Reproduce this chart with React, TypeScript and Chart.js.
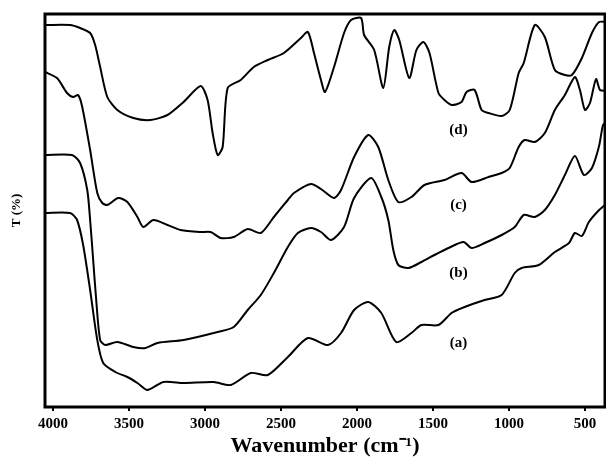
import React, { useEffect, useRef } from "react";
import { Chart, registerables } from "chart.js";
Chart.register(...registerables);

const xTicks = [4000, 3500, 3000, 2500, 2000, 1500, 1000, 500];

const waveD = [4053, 3888, 3822, 3756, 3723, 3690, 3643, 3577, 3472, 3359, 3247, 3141, 3029, 2983, 2950, 2917, 2884, 2851, 2765, 2679, 2587, 2481, 2369, 2323, 2283, 2237, 2210, 2151, 2085, 2039, 1973, 1953, 1887, 1827, 1788, 1755, 1722, 1656, 1609, 1563, 1523, 1464, 1424, 1378, 1312, 1279, 1226, 1180, 1134, 1048, 995, 936, 903, 830, 764, 698, 632, 586, 520, 454, 407, 368];
const transD = [382, 382, 379, 374, 362, 340, 310, 297, 289, 287, 292, 305, 321, 307, 274, 252, 260, 319, 327, 340, 347, 354, 369, 375, 354, 327, 315, 340, 374, 387, 389, 372, 357, 319, 360, 377, 367, 329, 357, 365, 354, 314, 307, 302, 305, 315, 317, 297, 294, 291, 297, 334, 344, 382, 370, 337, 332, 332, 349, 374, 385, 385];

const waveC = [4053, 3974, 3908, 3868, 3835, 3808, 3756, 3709, 3676, 3643, 3571, 3511, 3445, 3406, 3340, 3247, 3161, 3029, 2963, 2897, 2811, 2719, 2633, 2547, 2455, 2415, 2303, 2237, 2151, 2105, 2019, 1926, 1860, 1794, 1728, 1642, 1556, 1424, 1312, 1246, 1134, 1048, 995, 936, 896, 830, 764, 698, 632, 566, 533, 500, 467, 427, 401, 361];
const transC = [335, 329, 314, 310, 312, 300, 257, 214, 204, 202, 209, 205, 190, 180, 187, 182, 177, 175, 175, 169, 170, 178, 174, 190, 207, 214, 223, 218, 209, 217, 250, 272, 260, 227, 205, 210, 222, 227, 234, 225, 230, 234, 239, 260, 267, 265, 274, 297, 312, 330, 317, 297, 304, 328, 317, 316];

const waveB = [4053, 3875, 3822, 3775, 3756, 3736, 3716, 3690, 3657, 3577, 3472, 3392, 3313, 3141, 2917, 2811, 2719, 2633, 2547, 2455, 2389, 2303, 2237, 2171, 2085, 2019, 1907, 1840, 1794, 1761, 1728, 1662, 1576, 1490, 1398, 1299, 1246, 1160, 1048, 962, 903, 830, 764, 698, 632, 566, 507, 454, 407, 381, 361];
const transB = [252, 252, 244, 217, 187, 147, 107, 67, 62, 65, 60, 59, 64, 67, 75, 80, 97, 112, 134, 160, 174, 179, 175, 167, 180, 209, 229, 210, 187, 157, 142, 139, 145, 152, 159, 165, 159, 164, 172, 180, 192, 190, 197, 212, 232, 251, 232, 239, 261, 282, 284];

const waveA = [4053, 3888, 3842, 3802, 3756, 3709, 3670, 3590, 3511, 3445, 3379, 3274, 3141, 2943, 2831, 2699, 2587, 2455, 2323, 2191, 2105, 2019, 1926, 1840, 1742, 1642, 1576, 1464, 1378, 1292, 1160, 1048, 962, 916, 804, 698, 605, 566, 520, 474, 407, 361];
const transA = [194, 194, 187, 162, 117, 67, 44, 35, 30, 24, 17, 25, 24, 25, 22, 34, 32, 50, 69, 62, 74, 97, 105, 94, 65, 74, 82, 82, 94, 100, 107, 112, 134, 139, 142, 155, 164, 174, 171, 185, 197, 203];

const seriesNames = ["(a)", "(b)", "(c)", "(d)"];
const nameWave = [1332, 1332, 1332, 1332];
const nameT = [64, 134, 202, 277];

const SERIF = "'Liberation Serif', 'Times New Roman', serif";

export default function App() {
  const ref = useRef<HTMLCanvasElement | null>(null);
  useEffect(() => {
    if (!ref.current) return;
    const mk = (w: number[], t: number[]) => w.map((x, i) => ({ x, y: t[i] }));
    const series = [mk(waveA, transA), mk(waveB, transB), mk(waveC, transC), mk(waveD, transD)];
    const boxPlugin = {
      id: "boxAndNames",
      afterDatasetsDraw(chart: any) {
        const { ctx, chartArea, scales } = chart;
        ctx.save();
        ctx.strokeStyle = "#000";
        ctx.lineWidth = 3;
        ctx.strokeRect(chartArea.left, chartArea.top, chartArea.right - chartArea.left, chartArea.bottom - chartArea.top);
        ctx.fillStyle = "#000";
        ctx.font = "bold 15px " + SERIF;
        ctx.textAlign = "center";
        ctx.textBaseline = "middle";
        seriesNames.forEach((n, i) => {
          ctx.fillText(n, scales.x.getPixelForValue(nameWave[i]), scales.y.getPixelForValue(nameT[i]));
        });
        ctx.restore();
      },
    };
    const chart = new Chart(ref.current, {
      type: "line",
      data: {
        datasets: series.map((d, i) => ({
          label: seriesNames[i],
          data: d,
          borderColor: "#000",
          borderWidth: 2,
          pointRadius: 0,
          tension: 0.25,
          fill: false,
        })),
      },
      options: {
        animation: false,
        responsive: false,
        maintainAspectRatio: false,
        layout: { padding: { left: 0, top: 14, right: 1, bottom: 0 } },
        plugins: { legend: { display: false }, tooltip: { enabled: false } },
        scales: {
          x: {
            type: "linear",
            reverse: true,
            min: 368,
            max: 4053,
            afterBuildTicks: (s: any) => {
              s.ticks = xTicks.map((v) => ({ value: v }));
            },
            afterFit: (s: any) => {
              s.height = 53;
            },
            border: { display: false },
            grid: { drawOnChartArea: false, drawTicks: true, tickLength: 4, color: "#000", lineWidth: 2 },
            ticks: {
              color: "#000",
              padding: 4,
              maxRotation: 0,
              autoSkip: false,
              font: { family: SERIF, size: 15, weight: "bold" },
              callback: (v: any) => String(v),
            },
            title: {
              display: true,
              text: "Wavenumber (cm\u207B\u00B9)",
              color: "#000",
              font: { family: SERIF, size: 22, weight: "bold" },
              padding: { top: 0, bottom: 0 },
            },
          },
          y: {
            min: 0,
            max: 393,
            afterFit: (s: any) => {
              s.width = 45;
            },
            border: { display: false },
            grid: { display: false },
            ticks: { display: false },
            title: {
              display: true,
              text: "T (%)",
              color: "#000",
              font: { family: SERIF, size: 13, weight: "bold" },
              padding: { top: 9, bottom: 0 },
            },
          },
        },
      },
      plugins: [boxPlugin],
    } as any);
    return () => chart.destroy();
  }, []);
  return (
    <div style={{ position: "fixed", left: 0, top: 0, width: 606, height: 460, background: "#fff" }}>
      <canvas ref={ref} width={606} height={460} style={{ width: 606, height: 460, display: "block" }} />
    </div>
  );
}
